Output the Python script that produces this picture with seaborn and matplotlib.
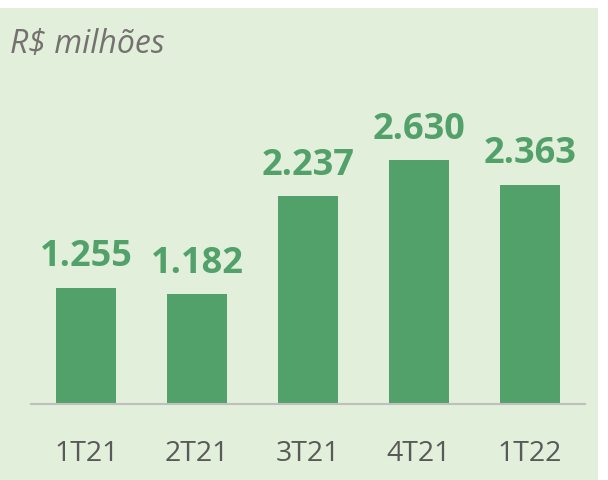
import matplotlib
matplotlib.use("Agg")
import matplotlib.pyplot as plt
import seaborn as sns
import pandas as pd
from matplotlib.patches import Rectangle

categories = ["1T21", "2T21", "3T21", "4T21", "1T22"]
values = [1.255, 1.182, 2.237, 2.630, 2.363]
labels = ["1.255", "1.182", "2.237", "2.630", "2.363"]
unit_label = "R$ milhões"

BG = "#E2EFDA"
BAR = "#52A06A"
TXT = "#595959"

sns.set_theme(style="white")
plt.rcParams["font.family"] = ["Open Sans", "DejaVu Sans"]

W, H = 608, 481
fig = plt.figure(figsize=(W / 100, H / 100), dpi=100)
fig.patch.set_facecolor("white")
fig.patches.append(Rectangle((0, 0), 598 / W, (H - 9) / H, transform=fig.transFigure,
                             facecolor=BG, edgecolor="none", zorder=-10))

ax = fig.add_axes([31 / W, 76 / H, 554 / W, 396 / H])
ax.set_facecolor("none")

df = pd.DataFrame({"cat": categories, "val": values})
sns.barplot(data=df, x="cat", y="val", color=BAR, saturation=1, width=0.54,
            linewidth=0, edgecolor="none", ax=ax)

ax.set_xlim(-0.5, 4.5)
ax.set_ylim(0, 396 / 92.8)
for i, (v, lab) in enumerate(zip(values, labels)):
    ax.annotate(lab, (i, v), xytext=(0, 16), textcoords="offset points",
                ha="center", va="baseline", fontsize=26, fontweight="bold", color=BAR)

for s in ["top", "right", "left"]:
    ax.spines[s].set_visible(False)
ax.spines["bottom"].set_color("#BFBFBF")
ax.spines["bottom"].set_linewidth(1.5)
ax.set_yticks([])
ax.set_xlabel("")
ax.set_ylabel("")
ax.tick_params(axis="x", length=0, pad=25, labelsize=20.5, labelcolor=TXT)

fig.text(10 / W, 1 - 53 / H, unit_label, fontsize=23, style="italic", color="#767171",
         ha="left", va="baseline")

fig.savefig("out.png", dpi=100)
